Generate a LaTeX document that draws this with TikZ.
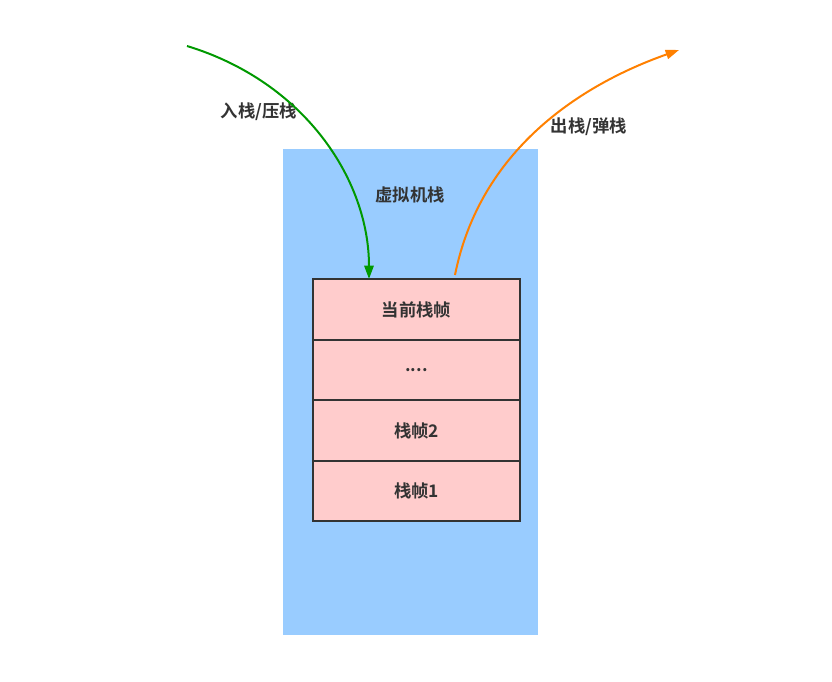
\documentclass[tikz,border=0pt]{standalone}
\usepackage{fontspec}
\setmainfont{Noto Sans CJK SC Bold}
\usetikzlibrary{positioning,arrows.meta}
\definecolor{stackblue}{HTML}{99CCFF}
\definecolor{framepink}{HTML}{FFCCCC}
\definecolor{textgray}{HTML}{333333}
\definecolor{pushgreen}{HTML}{009900}
\definecolor{poporange}{HTML}{FF8000}
\begin{document}
\begin{tikzpicture}[x=0.75pt,y=-0.75pt,font=\fontsize{13}{15}\selectfont,text=textgray,
  frame/.style={draw=textgray,line width=1.5pt,fill=framepink,minimum width=155pt,minimum height=45.4pt,inner sep=0pt,outer sep=0pt},
  flow/.style={line width=1.5pt,-{Triangle[length=10pt,width=7pt]}}]
  \useasboundingbox (0,0) rectangle (832,682);
  \node[fill=stackblue,minimum width=191pt,minimum height=364.5pt,inner sep=0pt] (vm) at (410.5,392) {};
  \node (vmlabel) at (410,195) {虚拟机栈};
  \node[frame] (cur) at (416.5,309.5) {当前栈帧};
  \node[frame,below=0pt of cur] (dots) {....};
  \node[frame,below=0pt of dots] (f2) {栈帧2};
  \node[frame,below=0pt of f2] (f1) {栈帧1};
  \node (pushlabel) at (259,112) {入栈/压栈};
  \node (poplabel) at (589,127) {出栈/弹栈};
  \coordinate (pushstart) at (187,46);
  \coordinate (pushend) at (369,279);
  \coordinate (popstart) at (455,275);
  \coordinate (popend) at (679,50);
  \draw[flow,pushgreen] (pushstart) .. controls (305,82) and (369,180) .. (pushend);
  \draw[flow,poporange] (popstart) .. controls (480,150) and (580,85) .. (popend);
\end{tikzpicture}
\end{document}
